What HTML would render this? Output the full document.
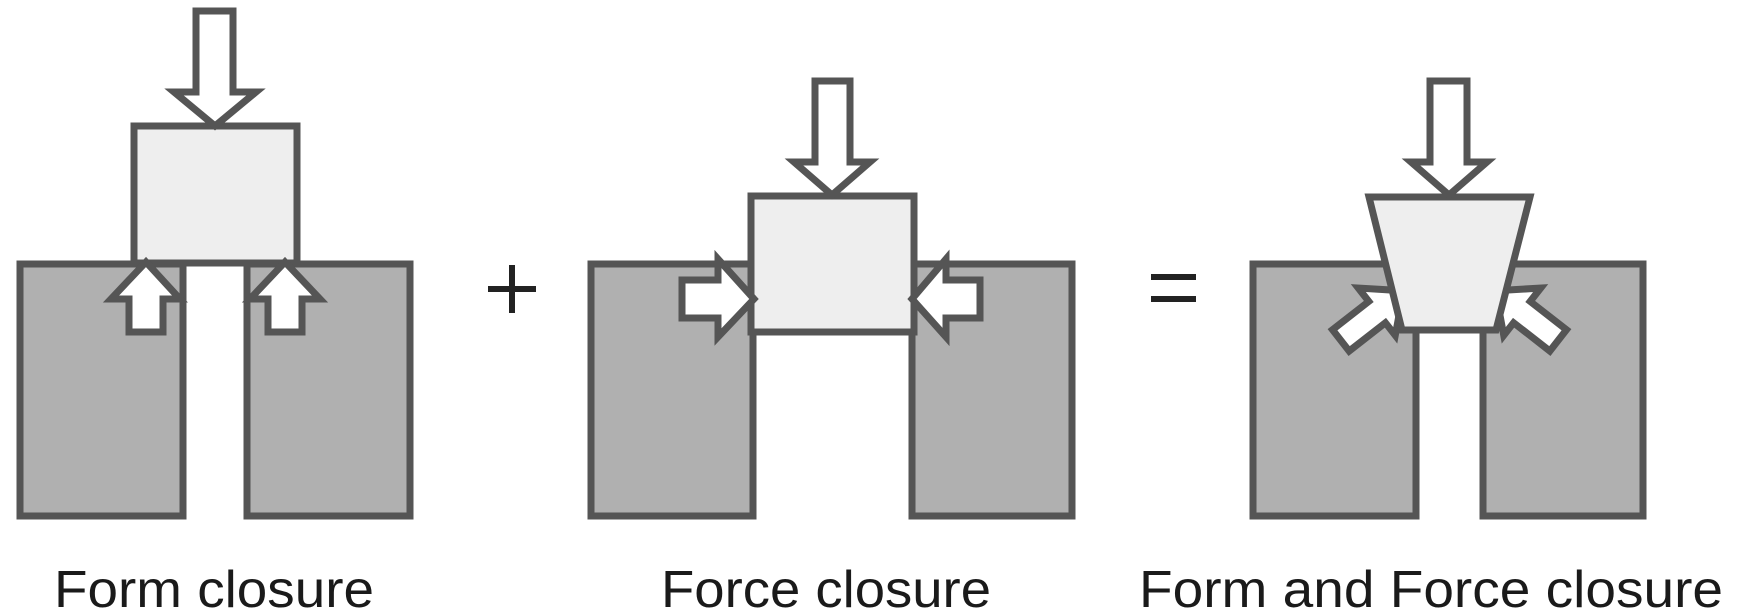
<!DOCTYPE html>
<html><head><meta charset="utf-8"><style>
html,body{margin:0;padding:0;background:#fff;}
svg{display:block;}
</style></head><body>
<svg width="1737" height="616" viewBox="0 0 1737 616" xmlns="http://www.w3.org/2000/svg">
<g stroke="#555" stroke-width="7" stroke-linejoin="miter">
<!-- Panel 1: Form closure -->
<rect x="20" y="264" width="163" height="252" fill="#b0b0b0"/>
<rect x="247" y="264" width="163" height="252" fill="#b0b0b0"/>
<rect x="134" y="126" width="163" height="137" fill="#eee"/>
<polygon points="196,11 233,11 233,92 256,92 215,126 174,92 196,92" fill="#fff"/>
<polygon points="146,262 180,299 163,299 163,332 129,332 129,299 111,299" fill="#fff"/>
<polygon points="285,262 320,299 302,299 302,332 268,332 268,299 250,299" fill="#fff"/>
<!-- Panel 2: Force closure -->
<rect x="591" y="264" width="162" height="252" fill="#b0b0b0"/>
<rect x="912" y="264" width="160" height="252" fill="#b0b0b0"/>
<rect x="751" y="196" width="163" height="136" fill="#eee"/>
<polygon points="815,81 850,81 850,162 870,162 832,195 794,162 815,162" fill="#fff"/>
<polygon points="754,299 718,259 718,280 682,280 682,318 718,318 718,337" fill="#fff"/>
<polygon points="912,299 946,259 946,280 980,280 980,318 946,318 946,337" fill="#fff"/>
<!-- Panel 3: Form and Force closure -->
<rect x="1253" y="264" width="163" height="252" fill="#b0b0b0"/>
<rect x="1483" y="264" width="160" height="252" fill="#b0b0b0"/>
<g transform="translate(1402,292) rotate(-38)"><polygon points="2,0 -32,-30 -32,-13 -78,-13 -78,14 -32,14 -32,30" fill="#fff"/></g>
<g transform="translate(1497,292) scale(-1,1) rotate(-38)"><polygon points="2,0 -32,-30 -32,-13 -78,-13 -78,14 -32,14 -32,30" fill="#fff"/></g>
<polygon points="1369,197 1530,197 1496,330 1402,330" fill="#eee"/>
<polygon points="1430,81 1467,81 1467,162 1487,162 1449,195 1411,162 1430,162" fill="#fff"/>
</g>
<!-- operators -->
<g stroke="#222" stroke-width="6">
<line x1="488" y1="289" x2="536" y2="289"/>
<line x1="512" y1="265" x2="512" y2="313"/>
<line x1="1151" y1="277" x2="1196" y2="277"/>
<line x1="1151" y1="299" x2="1196" y2="299"/>
</g>
<g font-family="Liberation Sans, sans-serif" font-size="52" fill="#1a1a1a">
<text x="54" y="607" textLength="320" lengthAdjust="spacingAndGlyphs">Form closure</text>
<text x="661" y="607" textLength="330" lengthAdjust="spacingAndGlyphs">Force closure</text>
<text x="1139" y="607" textLength="584" lengthAdjust="spacingAndGlyphs">Form and Force closure</text>
</g>
</svg>
</body></html>
